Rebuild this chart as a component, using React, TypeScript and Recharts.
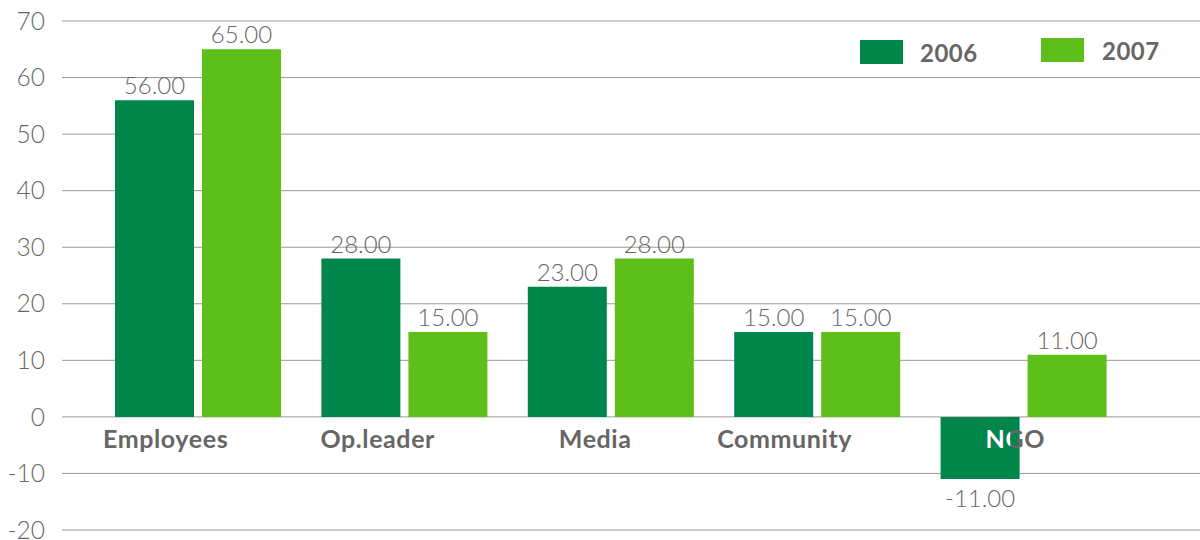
import React from 'react';
import { BarChart, Bar, XAxis, YAxis, CartesianGrid, LabelList } from 'recharts';

const categories = ['Employees', 'Op.leader', 'Media', 'Community', 'NGO'];
const values2006 = [56, 28, 23, 15, -11];
const values2007 = [65, 15, 28, 15, 11];
const yTicks = [-20, -10, 0, 10, 20, 30, 40, 50, 60, 70];
const seriesNames = ['2006', '2007'];

const data = categories.map((name, i) => ({ name, y2006: values2006[i], y2007: values2007[i] }));

const DARK = '#00854A';
const LIGHT = '#5FBF1A';
const GREY = '#666666';
const FONT = 'Lato, "Open Sans", sans-serif';

const BAR = 79;
const GAP = 8;

const ValueLabel = (props: any) => {
  const { x, y, width, height, value } = props;
  const top = Math.min(y, y + height);
  const bottom = Math.max(y, y + height);
  const ty = value >= 0 ? top - 6 : bottom + 28;
  return (
    <text x={x + width / 2} y={ty} textAnchor="middle" fill={GREY} fontSize={24} fontWeight={300} fontFamily={FONT}>
      {Number(value).toFixed(2)}
    </text>
  );
};

const catShift = [-99, -88, -56, -104, -42];

const CategoryLabel = (props: any) => {
  const { x, y, width, height, value, index } = props;
  const zero = Math.max(y, y + height);
  const tx = x + catShift[index];
  const ty = zero + 31;
  const neg = values2006[index] < 0;
  const id = `clip-cat-${index}`;
  const textProps = { x: tx, y: ty, fontSize: 25, fontWeight: 700, fontFamily: FONT, letterSpacing: 0.6 };
  return (
    <g>
      <text {...textProps} fill={GREY}>{value}</text>
      {neg && (
        <>
          <defs>
            <clipPath id={id}>
              <rect x={x - GAP - width} y={zero} width={width * 0.35 + 42} height={80} />
            </clipPath>
          </defs>
          <text {...textProps} fill="#ffffff" clipPath={`url(#${id})`}>{value}</text>
        </>
      )}
    </g>
  );
};

const LegendOverlay = () => (
  <div style={{ position: 'absolute', left: 860, top: 38, width: 320, height: 30, fontFamily: FONT }}>
    <div style={{ position: 'absolute', left: 0, top: 2, width: 43, height: 24, background: DARK }} />
    <div style={{ position: 'absolute', left: 60, top: 0, fontSize: 24, fontWeight: 700, color: GREY, lineHeight: '30px', letterSpacing: 0.5 }}>{seriesNames[0]}</div>
    <div style={{ position: 'absolute', left: 181, top: 0, width: 43, height: 24, background: LIGHT }} />
    <div style={{ position: 'absolute', left: 242, top: -2, fontSize: 24, fontWeight: 700, color: GREY, lineHeight: '30px', letterSpacing: 0.5 }}>{seriesNames[1]}</div>
  </div>
);

export default function App() {
  return (
    <div style={{ position: 'absolute', left: 0, top: 0, width: 1200, height: 540, background: '#fff' }}>
      <BarChart width={1200} height={540} data={data} margin={{ top: 21, right: 0, bottom: 10, left: 0 }} barSize={BAR} barGap={GAP}>
        <CartesianGrid vertical={false} stroke="#9a9a9a" strokeWidth={1} />
        <XAxis dataKey="name" hide padding={{ left: 33, right: 73 }} />
        <YAxis
          width={62}
          domain={[-20, 70]}
          ticks={yTicks}
          interval={0}
          axisLine={false}
          tickLine={false}
          tickSize={0}
          tickMargin={17}
          tick={{ fill: GREY, fontSize: 24.5, fontWeight: 300, fontFamily: FONT }}
        />
        <Bar dataKey="y2006" fill={DARK} isAnimationActive={false}>
          <LabelList dataKey="y2006" content={<ValueLabel />} />
        </Bar>
        <Bar dataKey="y2007" fill={LIGHT} isAnimationActive={false}>
          <LabelList dataKey="y2007" content={<ValueLabel />} />
          <LabelList dataKey="name" content={<CategoryLabel />} />
        </Bar>
      </BarChart>
      <LegendOverlay />
    </div>
  );
}
